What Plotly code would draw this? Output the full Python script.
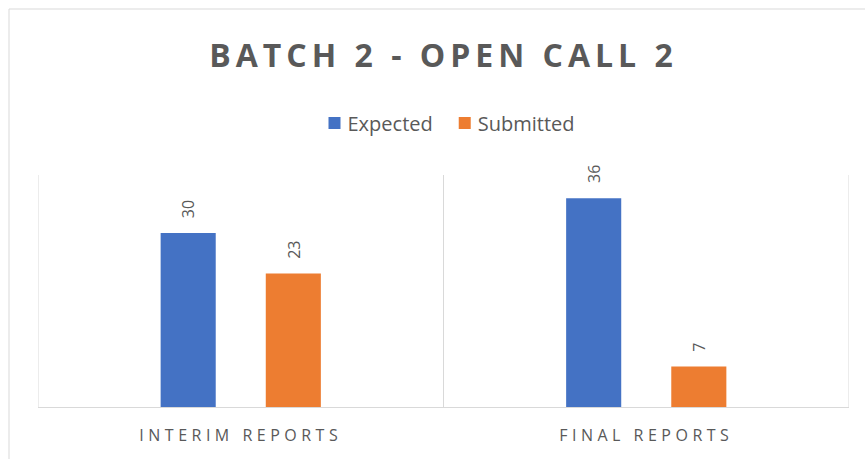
import plotly.graph_objects as go

categories = ["INTERIM REPORTS", "FINAL REPORTS"]
expected = [30, 36]
submitted = [23, 7]
series_names = ["Expected", "Submitted"]
title_text = "BATCH 2 - OPEN CALL 2"

BLUE = "#4472C4"
ORANGE = "#ED7D31"
TXT = "#595959"
GRID = "#D9D9D9"
FONT = "Open Sans"

fig = go.Figure()
series = [(series_names[0], expected, BLUE), (series_names[1], submitted, ORANGE)]
for name, vals, col in series:
    fig.add_trace(go.Bar(
        name=name, x=categories, y=vals, marker=dict(color=col, line=dict(width=0)),
    ))

# rotated data labels above the bars
slot_px = 105
for i, (name, vals, col) in enumerate(series):
    for cat, v in zip(categories, vals):
        fig.add_annotation(
            x=cat, y=v, xref="x", yref="y", text=str(v), showarrow=False,
            textangle=-90, xanchor="center", yanchor="bottom",
            xshift=(i - 0.5) * slot_px, yshift=13,
            font=dict(family=FONT, size=16, color=TXT),
        )

fig.update_layout(
    width=865, height=459,
    margin=dict(l=38, r=16, t=175, b=52),
    paper_bgcolor="white", plot_bgcolor="white",
    barmode="group", bargap=0.4815, bargroupgap=0.476,
    title=dict(text=title_text, x=0.5, xref="paper", xanchor="center",
               y=1 - 56 / 459, yref="container", yanchor="middle",
               font=dict(family=FONT, size=32, color=TXT, weight="bold")),
    legend=dict(orientation="h", x=0.5, xanchor="center", y=1.224, yanchor="middle",
                font=dict(family=FONT, size=20, color=TXT), itemwidth=30,
                traceorder="normal", bgcolor="rgba(0,0,0,0)"),
    showlegend=True,
)
fig.update_xaxes(
    type="category", range=[-0.5, len(categories) - 0.5], tickson="boundaries",
    showgrid=True, gridcolor=GRID, gridwidth=1,
    showline=True, linecolor=GRID, linewidth=1, ticks="", zeroline=False,
    tickfont=dict(family=FONT, size=16, color=TXT), ticklabelstandoff=14,
)
fig.update_yaxes(range=[0, 40], showgrid=False, showticklabels=False, zeroline=False,
                 showline=False, ticks="")

# category boundary lines at the plot edges
for xb in [-0.5, len(categories) - 0.5]:
    fig.add_shape(type="line", xref="x", yref="y", x0=xb, x1=xb, y0=0, y1=40,
                  line=dict(color=GRID, width=1), layer="below")

# outer chart border
fig.add_shape(type="rect", xref="paper", yref="paper",
              x0=(9 - 38) / 811, x1=1.05, y0=-0.4, y1=(407 - 9) / 232,
              line=dict(color=GRID, width=1), fillcolor="rgba(0,0,0,0)", layer="below")

post = """
document.body.style.margin='0';
document.body.style.overflow='hidden';
document.documentElement.style.overflow='hidden';
document.querySelectorAll('.gtitle').forEach(function(e){e.style.letterSpacing='5px';});
document.querySelectorAll('.xtick text').forEach(function(e){e.style.letterSpacing='4.5px';});
document.querySelectorAll('.legendpoints').forEach(function(e){e.setAttribute('transform','translate(7,0)');});
"""
fig.write_html("out.html", post_script=post, config={"displayModeBar": False})
